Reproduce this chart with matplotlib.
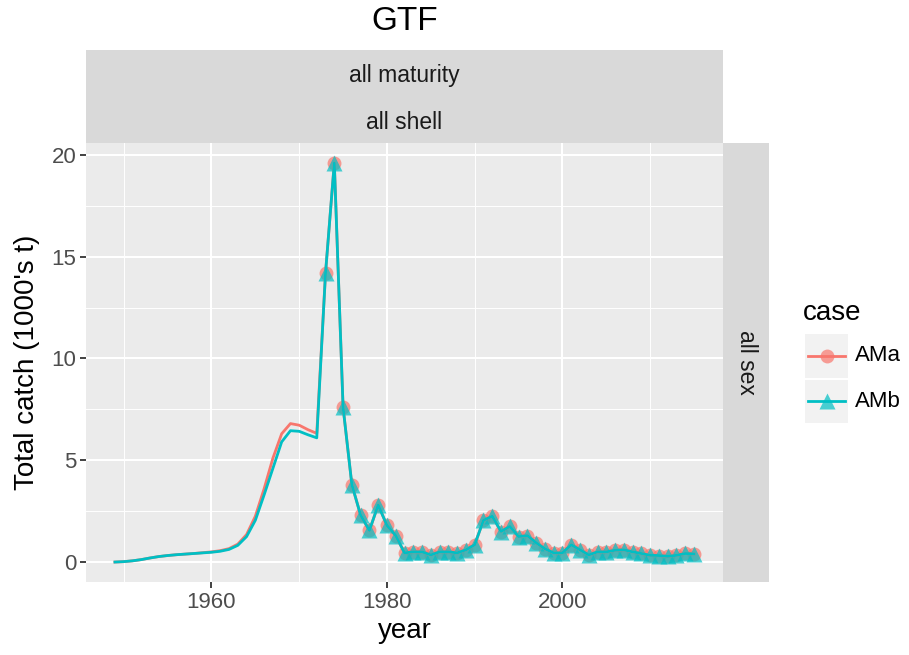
import matplotlib.pyplot as plt
from matplotlib.lines import Line2D
from matplotlib.patches import Rectangle

plt.rcParams['font.family'] = ['Liberation Sans', 'DejaVu Sans']

# Data
years = list(range(1949, 2016))
ama_fit = [0.0, 0.02, 0.06, 0.12, 0.2, 0.27, 0.32, 0.36, 0.39, 0.42, 0.46, 0.5,
           0.56, 0.66, 0.88, 1.35, 2.25, 3.6, 5.1, 6.3, 6.8, 6.72, 6.5, 6.32,
           14.2, 19.6, 7.6, 3.8, 2.3, 1.55, 2.8, 1.8, 1.3, 0.45, 0.5, 0.5,
           0.35, 0.5, 0.5, 0.45, 0.6, 0.85, 2.05, 2.25, 1.5, 1.75, 1.25, 1.3,
           0.95, 0.65, 0.45, 0.45, 0.85, 0.6, 0.35, 0.5, 0.5, 0.58, 0.6, 0.5,
           0.42, 0.33, 0.32, 0.28, 0.33, 0.42, 0.4]
amb_fit = [0.0, 0.02, 0.06, 0.12, 0.2, 0.27, 0.32, 0.36, 0.39, 0.42, 0.45, 0.48,
           0.53, 0.62, 0.82, 1.25, 2.05, 3.3, 4.6, 5.9, 6.45, 6.42, 6.25, 6.1,
           14.2, 19.6, 7.6, 3.8, 2.3, 1.55, 2.8, 1.8, 1.3, 0.45, 0.5, 0.5,
           0.35, 0.5, 0.5, 0.45, 0.6, 0.85, 2.05, 2.25, 1.5, 1.75, 1.25, 1.3,
           0.95, 0.65, 0.45, 0.45, 0.85, 0.6, 0.35, 0.5, 0.5, 0.58, 0.6, 0.5,
           0.42, 0.33, 0.32, 0.28, 0.33, 0.42, 0.4]
obs_years = list(range(1973, 2016))
obs_catch = [14.2, 19.6, 7.6, 3.8, 2.3, 1.55, 2.8, 1.8, 1.3, 0.45, 0.5, 0.5,
             0.35, 0.5, 0.5, 0.45, 0.6, 0.85, 2.05, 2.25, 1.5, 1.75, 1.25, 1.3,
             0.95, 0.65, 0.45, 0.45, 0.85, 0.6, 0.35, 0.5, 0.5, 0.58, 0.6, 0.5,
             0.42, 0.33, 0.32, 0.28, 0.33, 0.42, 0.4]
cases = ['AMa', 'AMb']
colors = ['#F8766D', '#00BFC4']
markers = ['o', '^']

W, H = 909, 655
fig = plt.figure(figsize=(W / 100, H / 100), dpi=100)


def box(x0, y0, x1, y1):
    # pixel box (top-left origin) -> figure fraction rect
    return [x0 / W, 1 - y1 / H, (x1 - x0) / W, (y1 - y0) / H]


ax = fig.add_axes(box(86, 143, 723, 582))
ax.set_facecolor('#EBEBEB')
for s in ax.spines.values():
    s.set_visible(False)

# points first, then the fitted lines on top
ax.plot(obs_years, obs_catch, ls='none', marker='o', ms=10, color=colors[0],
        alpha=0.7, mec='none', zorder=3)
ax.plot(obs_years, obs_catch, ls='none', marker='^', ms=11.5, color=colors[1],
        alpha=0.7, mec='none', zorder=4)
ax.plot(years, ama_fit, color=colors[0], lw=2.0, zorder=5)
ax.plot(years, amb_fit, color=colors[1], lw=2.0, zorder=6)

ax.set_xlim(1945.7, 2018.3)
ax.set_ylim(-0.98, 20.58)
ax.set_xticks([1960, 1980, 2000])
ax.set_xticks([1950, 1970, 1990, 2010], minor=True)
ax.set_yticks([0, 5, 10, 15, 20])
ax.set_yticks([2.5, 7.5, 12.5, 17.5], minor=True)
ax.grid(which='major', color='white', lw=1.5)
ax.grid(which='minor', color='white', lw=0.7)
ax.set_axisbelow(True)
ax.tick_params(which='major', length=4, width=1.3, color='#333333',
               labelsize=16, labelcolor='#4D4D4D', pad=3)
ax.tick_params(which='minor', length=0)
ax.set_xlabel('year', fontsize=20, labelpad=4)
ax.set_ylabel("Total catch (1000's t)", fontsize=20, labelpad=8)

# facet strips
strip_top = fig.add_axes(box(86, 50, 723, 143))
strip_top.set_facecolor('#D9D9D9')
strip_top.set_xticks([])
strip_top.set_yticks([])
for s in strip_top.spines.values():
    s.set_visible(False)
strip_top.text(0.5, 0.725, 'all maturity', ha='center', va='center',
               fontsize=16.5, color='#1A1A1A', transform=strip_top.transAxes)
strip_top.text(0.5, 0.225, 'all shell', ha='center', va='center',
               fontsize=16.5, color='#1A1A1A', transform=strip_top.transAxes)

strip_right = fig.add_axes(box(723, 143, 769, 582))
strip_right.set_facecolor('#D9D9D9')
strip_right.set_xticks([])
strip_right.set_yticks([])
for s in strip_right.spines.values():
    s.set_visible(False)
strip_right.text(0.5, 0.5, 'all sex', ha='center', va='center', rotation=-90,
                 fontsize=16.5, color='#1A1A1A', transform=strip_right.transAxes)

fig.text(404.5 / W, 1 - 22 / H, 'GTF', ha='center', va='center', fontsize=24)

# legend drawn by hand in pixel coordinates
leg = fig.add_axes(box(795, 290, 909, 430))
leg.set_xlim(795, 909)
leg.set_ylim(430, 290)
leg.axis('off')
leg.text(803, 313, 'case', fontsize=20, va='center', ha='left')
for i, (name, c, m) in enumerate(zip(cases, colors, markers)):
    y0 = 334 + i * 45.5
    leg.add_patch(Rectangle((805, y0), 43, 43.5, facecolor='#F2F2F2', edgecolor='none'))
    yc = y0 + 21.75
    leg.add_line(Line2D([808, 845], [yc, yc], color=c, lw=2.0))
    leg.plot([826.5], [yc], marker=m, ms=10 if m == 'o' else 11.5, color=c,
             alpha=0.7, mec='none')
    leg.text(855, yc, name, fontsize=16, va='center', ha='left')

fig.savefig('out.png', dpi=100)
